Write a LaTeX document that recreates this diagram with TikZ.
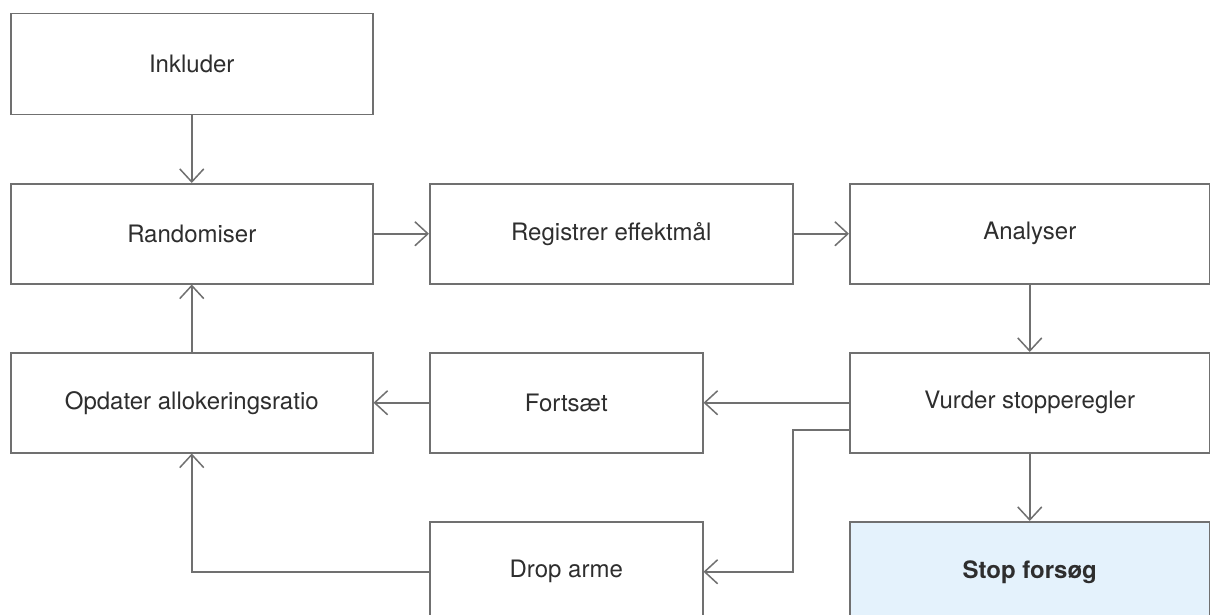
\documentclass[tikz,border=0pt]{standalone}
\usepackage{fontspec}
\setmainfont{TeX Gyre Heros}
\usetikzlibrary{arrows.meta}
\definecolor{linegray}{HTML}{707070}
\definecolor{textgray}{HTML}{2E2E2E}
\definecolor{stopfill}{HTML}{E4F2FC}
\tikzset{
  box/.style={draw=linegray, line width=1.5pt, fill=white, anchor=north west,
    inner sep=0pt, text=textgray, font=\fontsize{24}{28}\selectfont},
  conn/.style={draw=linegray, line width=1.5pt, -{Straight Barb[length=13pt,width=24pt,line width=1.5pt]}},
  plain/.style={draw=linegray, line width=1.5pt}
}
\begin{document}
\begin{tikzpicture}[x=1pt,y=-1pt]
\clip (0,0) rectangle (1210,615);
\fill[white] (0,0) rectangle (1210,615);
% column 1: 10-372, column 2: 429-702/792, column 3: 849-1209
% rows: 13, 183, 352, 521; height 100
\node[box, minimum width=362pt, minimum height=101pt] (inc) at (10,13) {Inkluder};
\node[box, minimum width=362pt, minimum height=100pt] (rand) at (10,183) {Randomiser};
\node[box, minimum width=363pt, minimum height=100pt] (reg) at (429,183) {Registrer effektmål};
\node[box, minimum width=360pt, minimum height=100pt] (ana) at (849,183) {Analyser};
\node[box, minimum width=362pt, minimum height=100pt] (opd) at (10,352) {Opdater allokeringsratio};
\node[box, minimum width=273pt, minimum height=100pt] (fort) at (429,352) {Fortsæt};
\node[box, minimum width=360pt, minimum height=100pt] (vurd) at (849,352) {Vurder stopperegler};
\node[box, minimum width=273pt, minimum height=100pt] (drop) at (429,521) {Drop arme};
\node[box, fill=stopfill, minimum width=360pt, minimum height=100pt, font=\fontsize{24}{28}\selectfont\bfseries] (stop) at (849,521) {Stop forsøg};

\coordinate (vd) at ([yshift=-27pt]vurd.west);
\coordinate (elbow) at (793,0);

\draw[conn] (inc.south) -- (rand.north);
\draw[conn] (rand.east) -- (reg.west);
\draw[conn] (reg.east) -- (ana.west);
\draw[conn] (ana.south) -- (vurd.north);
\draw[conn] (vurd.west) -- (fort.east);
\draw[conn] (fort.west) -- (opd.east);
\draw[conn] (opd.north) -- (rand.south);
\draw[conn] (vd) -- (vd -| elbow) -- (drop.east -| elbow) -- (drop.east);
\draw[conn] (drop.west) -- (drop.west -| opd.south) -- (opd.south);
\draw[conn] (vurd.south) -- (stop.north);
\end{tikzpicture}
\end{document}
